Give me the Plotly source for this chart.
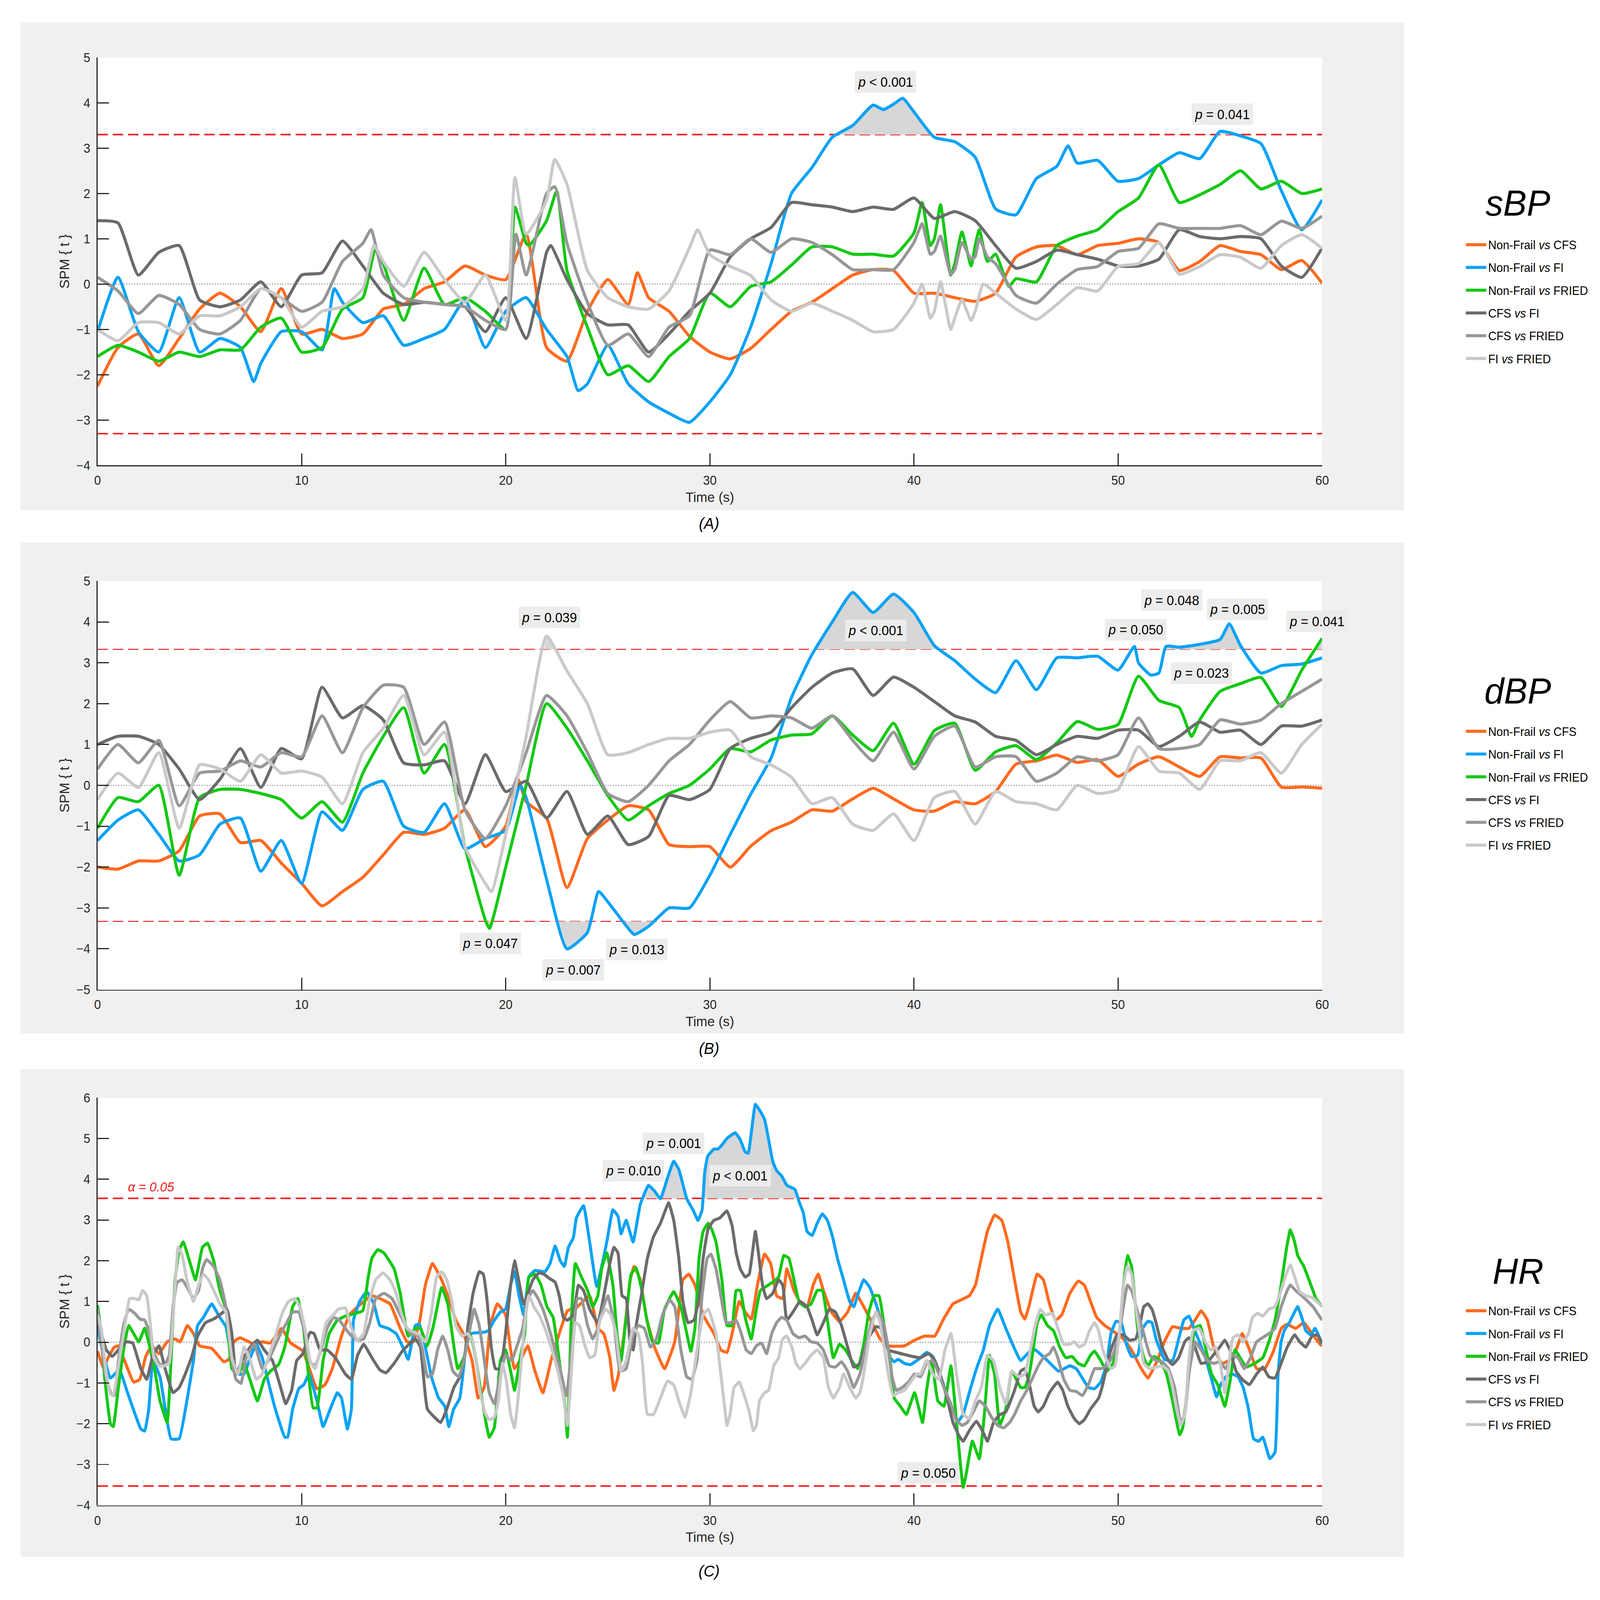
import plotly.graph_objects as go

FONT = "Liberation Sans"

# ---------------- data ----------------
TIME_S = [0, 1, 2, 3, 4, 5, 6, 7, 8, 9, 10, 11, 12, 13, 14, 15, 16, 17, 18, 19, 20,
          21, 22, 23, 24, 25, 26, 27, 28, 29, 30, 31, 32, 33, 34, 35, 36, 37, 38, 39, 40,
          41, 42, 43, 44, 45, 46, 47, 48, 49, 50, 51, 52, 53, 54, 55, 56, 57, 58, 59, 60]
X_TICKS = [0, 10, 20, 30, 40, 50, 60]

SERIES_NAMES = ["Non-Frail <i>vs</i> CFS", "Non-Frail <i>vs</i> FI", "Non-Frail <i>vs</i> FRIED",
                "CFS <i>vs</i> FI", "CFS <i>vs</i> FRIED", "FI <i>vs</i> FRIED"]
SERIES_COLORS = ["#ff6a1f", "#0aa2f5", "#14c814", "#6b6b6b", "#979797", "#c9c9c9"]

# (A) sBP : values on the 1-s grid + extra (time, value) points at sharp peaks
SBP_NF_CFS = [-2.25, -1.4, -1.1, -1.8, -1.2, -0.55, -0.2, -0.5, -1.05, -0.1,
              -1.1, -1.0, -1.2, -1.1, -0.55, -0.45, -0.1, 0.05, 0.4, 0.2,
              0.1, 1.1, -1.4, -1.7, -0.6, 0.1, -0.45, -0.3, -0.6, -1.15,
              -1.5, -1.65, -1.42, -1.0, -0.6, -0.4, -0.1, 0.2, 0.32, 0.3,
              -0.2, -0.2, -0.3, -0.38, -0.2, 0.6, 0.82, 0.85, 0.65, 0.85,
              0.9, 1.0, 0.92, 0.3, 0.5, 0.85, 0.72, 0.65, 0.32, 0.52, 0.02]
SBP_NF_CFS_X = [(26.45, 0.25)]
SBP_NF_FI = [-1.05, 0.15, -1.05, -1.5, -0.3, -1.5, -1.2, -1.4, -1.75, -1.05,
             -1.05, -1.45, -0.4, -0.85, -0.7, -1.35, -1.2, -1.0, -0.35, -1.4,
             -0.6, -0.3, -1.0, -1.6, -2.2, -1.35, -2.2, -2.6, -2.85, -3.05,
             -2.6, -2.0, -0.95, 0.45, 2.0, 2.57, 3.24, 3.5, 3.95, 3.97,
             3.8, 3.24, 3.14, 2.8, 1.66, 1.53, 2.33, 2.6, 2.67, 2.73,
             2.27, 2.33, 2.63, 2.9, 2.77, 3.37, 3.27, 3.1, 2.06, 1.2, 1.86]
SBP_NF_FI_X = [(7.65, -2.15), (11.6, -0.1), (23.55, -2.35), (38.5, 3.85), (39.45, 4.1), (47.55, 3.05)]
SBP_NF_FRIED = [-1.6, -1.35, -1.5, -1.7, -1.5, -1.6, -1.45, -1.45, -0.95, -0.75,
                -1.5, -1.4, -0.55, -0.3, 0.45, -0.8, 0.35, -0.45, -0.3, -0.6,
                -1.0, 0.9, 1.4, 0.3, -0.95, -2.0, -1.8, -2.15, -1.6, -1.2,
                -0.2, -0.5, -0.05, 0.05, 0.42, 0.82, 0.82, 0.66, 0.66, 0.62,
                1.13, 1.0, 0.45, 0.85, 0.66, 0.12, 0.05, 0.85, 1.06, 1.2,
                1.6, 1.9, 2.63, 1.8, 1.97, 2.2, 2.5, 2.1, 2.27, 2.0, 2.1]
SBP_NF_FRIED_X = [(13.6, 0.75), (20.45, 1.7), (21.15, 0.85), (22.5, 2.05), (40.4, 1.8), (40.8, 0.85),
                  (41.3, 1.75), (41.8, 0.2), (42.35, 1.15), (42.8, 0.4), (43.2, 1.2), (43.6, 0.5),
                  (44.65, -0.05)]
SBP_CFS_FI = [1.4, 1.35, 0.2, 0.7, 0.85, -0.35, -0.5, -0.35, 0.05, -0.5,
              0.2, 0.25, 0.95, 0.4, -0.2, -0.45, -0.4, -0.45, -0.5, -1.05,
              -0.3, -1.2, 0.7, 0.1, -0.65, -0.9, -0.9, -1.5, -1.1, -0.6,
              -0.2, 0.6, 1.0, 1.25, 1.8, 1.75, 1.7, 1.6, 1.7, 1.65,
              1.9, 1.45, 1.6, 1.4, 0.85, 0.35, 0.5, 0.75, 0.65, 0.55,
              0.4, 0.4, 0.55, 1.2, 1.05, 1.0, 1.05, 1.0, 0.4, 0.15, 0.8]
SBP_CFS_FI_X = [(22.2, 0.85)]
SBP_CFS_FRIED = [0.15, -0.15, -0.65, -0.25, -0.45, -1.0, -1.1, -0.8, -0.1, -0.3,
                 -0.6, -0.4, 0.5, 0.9, 0.2, -0.3, -0.4, -0.45, -0.5, -0.8,
                 -1.0, 0.2, 2.0, 0.9, -0.4, -1.35, -1.1, -1.6, -0.95, -0.7,
                 0.75, 0.65, 1.0, 0.7, 1.0, 0.92, 0.65, 0.32, 0.32, 0.32,
                 0.92, 0.72, 0.32, 0.6, 0.45, -0.25, -0.42, 0.0, 0.32, 0.39,
                 0.72, 0.79, 1.33, 1.23, 1.23, 1.23, 1.29, 1.09, 1.39, 1.23, 1.5]
SBP_CFS_FRIED_X = [(13.4, 1.2), (20.5, 1.1), (22.4, 2.15), (40.4, 1.33), (40.8, 0.66), (41.3, 1.06),
                   (41.8, 0.22), (42.35, 0.92), (42.8, 0.55), (43.2, 1.0), (43.6, 0.6)]
SBP_FI_FRIED = [-1.0, -1.25, -0.85, -0.85, -1.1, -0.7, -0.7, -0.5, -0.1, -0.3,
                -0.95, -0.6, -0.5, -0.1, 0.5, -0.05, 0.7, 0.1, -0.4, 0.2,
                -0.8, 1.1, 1.85, 2.2, 0.3, -0.3, -0.5, -0.55, -0.15, 0.8,
                0.65, 0.39, 0.19, -0.35, -0.6, -0.42, -0.6, -0.8, -1.05, -1.0,
                -0.42, -0.6, -0.75, -0.6, -0.2, -0.55, -0.78, -0.45, -0.08, -0.15,
                0.39, 0.45, 0.92, 0.22, 0.39, 0.65, 0.59, 0.35, 0.85, 1.09, 0.79]
SBP_FI_FRIED_X = [(13.55, 0.85), (20.45, 2.35), (22.4, 2.75), (29.4, 1.2), (40.4, 0.0), (40.8, -0.75),
                  (41.3, 0.05), (41.8, -1.0), (42.35, -0.35), (42.8, -0.8), (43.4, 0.0)]

# (B) dBP
DBP_NF_CFS = [-2.0, -2.05, -1.85, -1.85, -1.6, -0.75, -0.7, -1.4, -1.35, -1.9,
              -2.4, -2.95, -2.6, -2.25, -1.7, -1.15, -1.2, -1.05, -0.6, -1.5,
              -1.0, -0.4, -0.8, -2.5, -1.3, -0.85, -0.5, -0.6, -1.45, -1.5,
              -1.5, -2.0, -1.49, -1.11, -0.9, -0.6, -0.63, -0.33, -0.07, -0.33,
              -0.6, -0.63, -0.4, -0.45, -0.15, 0.52, 0.6, 0.74, 0.56, 0.63,
              0.22, 0.52, 0.7, 0.45, 0.22, 0.7, 0.67, 0.67, -0.04, -0.04, -0.07]
DBP_NF_CFS_X = [(20.6, 0.15)]
DBP_NF_FI = [-1.35, -0.85, -0.6, -1.2, -1.85, -1.7, -0.95, -0.8, -2.1, -1.35,
             -2.4, -0.65, -1.1, -0.1, 0.1, -1.0, -1.15, -0.45, -1.55, -1.3,
             -1.1, -0.3, -2.3, -4.0, -3.6, -2.85, -3.5, -3.45, -3.0, -3.0,
             -2.2, -1.2, -0.22, 0.67, 2.15, 3.2, 4.0, 4.72, 4.23, 4.68,
             4.23, 3.42, 3.05, 2.6, 2.27, 3.05, 2.34, 3.12, 3.12, 3.16,
             2.82, 3.0, 2.75, 3.38, 3.45, 3.57, 3.42, 2.75, 2.93, 2.97, 3.12]
DBP_NF_FI_X = [(20.7, 0.0), (24.55, -2.6), (26.3, -3.65), (50.8, 3.4), (51.6, 2.7), (52.35, 3.4),
               (55.45, 3.95)]
DBP_NF_FRIED = [-1.05, -0.3, -0.4, 0.0, -2.2, -0.3, -0.1, -0.1, -0.2, -0.35,
                -0.8, -0.4, -0.9, 0.3, 1.2, 1.9, 0.3, 1.0, -1.5, -3.3,
                -2.0, 0.0, 2.0, 1.4, 0.6, -0.25, -0.85, -0.5, -0.2, 0.0,
                0.4, 0.9, 0.82, 1.11, 1.23, 1.26, 1.7, 1.23, 0.85, 1.52,
                0.52, 1.34, 1.52, 0.37, 0.82, 0.97, 0.63, 1.04, 1.56, 1.37,
                1.49, 2.67, 2.08, 1.9, 1.6, 2.3, 2.49, 2.64, 1.93, 2.82, 3.6]
DBP_NF_FRIED_X = [(19.2, -3.5), (53.6, 1.2)]
DBP_CFS_FI = [1.0, 1.2, 1.2, 1.0, 0.4, -0.35, 0.15, 0.9, -0.05, 0.9,
              0.65, 2.4, 1.65, 1.95, 1.6, 0.55, 0.5, 0.6, -0.45, 0.75,
              -0.15, 0.1, -0.8, -0.15, -1.2, -0.75, -1.45, -1.25, -0.25, -0.35,
              -0.1, 0.9, 1.15, 1.3, 1.9, 2.4, 2.75, 2.85, 2.2, 2.65,
              2.4, 2.05, 1.7, 1.55, 1.2, 1.1, 0.75, 1.0, 1.2, 1.15,
              1.35, 1.35, 0.95, 1.2, 1.55, 1.3, 1.35, 1.0, 1.45, 1.45, 1.6]
DBP_CFS_FI_X = []
DBP_CFS_FRIED = [0.4, 1.0, 0.55, 1.1, -0.5, 0.3, 0.35, 0.6, 0.45, 0.8,
                 0.7, 1.7, 0.8, 1.9, 2.45, 2.4, 1.0, 1.55, -0.6, -1.3,
                 -0.5, 0.8, 2.2, 1.7, 0.8, -0.2, -0.4, 0.0, 0.6, 1.0,
                 1.6, 2.05, 1.65, 1.7, 1.65, 1.4, 1.7, 1.1, 0.6, 1.3,
                 0.4, 1.2, 1.45, 0.45, 0.7, 0.7, 0.1, 0.3, 0.7, 0.6,
                 0.75, 1.65, 0.9, 0.9, 1.0, 1.6, 1.5, 1.6, 2.0, 2.3, 2.6]
DBP_CFS_FRIED_X = []
DBP_FI_FRIED = [-0.35, 0.3, -0.05, 0.8, -1.05, 0.5, 0.4, 0.1, 0.75, 0.3,
                0.35, 0.2, -0.45, 0.8, 1.4, 2.2, 0.75, 1.3, -1.5, -2.4,
                -1.2, 1.2, 3.65, 2.8, 2.0, 0.75, 0.8, 1.0, 1.15, 1.15,
                1.3, 1.35, 0.7, 0.5, 0.2, -0.45, -0.3, -0.95, -1.1, -0.7,
                -1.35, -0.3, -0.15, -0.95, -0.15, -0.4, -0.45, -0.6, 0.0, -0.2,
                -0.1, 0.95, 0.35, 0.3, -0.1, 0.6, 0.6, 0.8, 0.3, 1.0, 1.5]
DBP_FI_FRIED_X = [(19.3, -2.6)]

# (C) HR : (time s, SPM{t}) points
HR_NF_CFS = [(0, -0.22), (0.28, -0.61), (0.58, -0.32), (0.82, -0.12), (1.02, -0.09), (1.32, -0.45),
             (1.77, -0.98), (2.07, -0.91), (2.36, -0.35), (2.66, -0.09), (3.01, -0.28), (3.41, 0.01),
             (3.8, 0.08), (4.05, 0.01), (4.4, 0.41), (4.7, 0.21), (5.0, -0.09), (5.59, -0.15),
             (6.19, -0.48), (6.44, -0.42), (6.68, 0.01), (6.98, 0.11), (7.68, -0.05), (8.07, 0.01),
             (8.47, -0.02), (9.02, 0.34), (9.46, -0.02), (10.06, -0.22), (10.75, -1.14), (11.15, -1.04),
             (11.5, -0.65), (11.95, 0.15), (12.34, 0.67), (12.74, 0.87), (13.44, 1.14), (13.83, 1.07),
             (14.33, 0.94), (14.83, 0.34), (15.17, 0.01), (15.47, 0.01), (15.77, 0.48), (16.06, 1.4),
             (16.41, 1.93), (16.86, 1.53), (17.26, 1.0), (17.55, 0.54), (17.95, 0.18), (18.35, -0.45),
             (18.65, -1.37), (18.94, -1.11), (19.24, 0.41), (19.59, 0.94), (19.99, 0.67), (20.24, -0.19),
             (20.43, -0.65), (20.78, -0.38), (21.08, -0.09), (21.43, -0.71), (21.82, -1.24), (22.22, -0.45),
             (22.62, 0.21), (23.02, 0.77), (23.51, 0.87), (24.11, 1.14), (24.51, 0.34), (24.8, 0.21),
             (25.1, -0.38), (25.3, -1.18), (25.5, -0.85), (25.8, 0.21), (26.1, 1.53), (26.29, 1.86),
             (26.59, 1.53), (26.89, 0.61), (27.29, -0.12), (27.78, -0.65), (28.28, 0.01), (28.68, 1.53),
             (28.97, 1.67), (29.27, 1.4), (29.67, 0.67), (30.2, 0.21), (30.54, -0.19), (30.84, -0.25),
             (31.09, 0.21), (31.44, 1.0), (31.73, 0.74), (32.03, 0.57), (32.33, 1.4), (32.68, 2.16),
             (32.98, 1.93), (33.27, 1.14), (33.57, 1.07), (33.77, 1.8), (34.12, 1.27), (34.47, 0.94),
             (34.76, 0.87), (35.06, 1.4), (35.31, 1.67), (35.56, 1.27), (35.96, 0.74), (36.35, 0.51),
             (36.75, 0.74), (37.15, 1.2), (37.54, 0.87), (37.94, 0.48), (38.34, 0.08), (38.74, -0.09),
             (39.53, -0.09), (40.03, 0.05), (40.52, 0.15), (41.02, 0.15), (41.42, 0.54), (41.91, 0.94),
             (42.31, 1.04), (42.71, 1.14), (43.01, 1.4), (43.3, 2.06), (43.6, 2.72), (43.95, 3.12),
             (44.3, 2.99), (44.6, 2.46), (44.93, 1.53), (45.23, 0.74), (45.43, 0.57), (45.63, 0.87),
             (46.04, 1.67), (46.34, 1.53), (46.64, 0.94), (46.94, 0.54), (47.24, 0.67), (47.64, 1.2),
             (48.05, 1.5), (48.35, 1.4), (48.65, 1.0), (48.95, 0.61), (49.35, 0.41), (49.85, 0.24),
             (50.26, 0.08), (50.66, -0.19), (51.06, -0.58), (51.46, -0.88), (51.86, -0.52), (52.27, 0.01),
             (52.67, 0.38), (53.07, 0.34), (53.47, 0.34), (53.77, 0.54), (54.07, 0.77), (54.38, 0.54),
             (54.68, -0.12), (55.08, -0.52), (55.43, -0.45), (55.78, -0.19), (56.08, 0.21), (56.39, -0.12),
             (56.79, -0.65), (57.19, -0.65), (57.59, -0.25), (58.0, 0.34), (58.29, 0.44), (58.7, 0.34),
             (59.1, 0.48), (59.5, 0.21), (59.9, -0.05), (60.0, -0.09)]
HR_NF_FI = [(0, 0.34), (0.63, -0.88), (1.07, -0.68), (1.47, -1.24), (2.12, -2.13), (2.31, -2.18),
            (2.51, -1.64), (2.71, -0.45), (3.06, -0.85), (3.6, -2.37), (4.0, -2.37), (4.4, -1.37),
            (4.7, -0.45), (4.9, 0.41), (5.19, 0.61), (5.59, 0.94), (5.99, 0.61), (6.29, 0.38),
            (6.58, -0.45), (6.88, -0.78), (7.18, -0.78), (7.48, -0.38), (7.78, -0.05), (8.07, -0.38),
            (8.37, -0.98), (8.67, -1.57), (9.17, -2.33), (9.31, -2.33), (9.56, -1.64), (9.86, -1.14),
            (10.11, -1.04), (10.36, -0.78), (10.75, -1.44), (11.05, -2.07), (11.4, -1.64), (11.75, -1.24),
            (11.95, -1.37), (12.24, -2.13), (12.44, -1.64), (12.54, 0.54), (12.84, 1.0), (13.19, 1.24),
            (13.54, 0.94), (13.83, 0.41), (14.23, 0.34), (14.63, 0.21), (15.02, -0.19), (15.22, -0.42),
            (15.57, 0.41), (15.77, 0.44), (16.06, -0.12), (16.36, -0.85), (16.71, -1.37), (17.01, -1.57),
            (17.21, -2.07), (17.45, -1.64), (17.75, -1.37), (18.05, -0.12), (18.25, 0.21), (18.85, 0.24),
            (19.14, 0.28), (19.44, 0.54), (19.74, 0.74), (19.99, 0.81), (20.24, 1.4), (20.43, 1.73),
            (20.63, 1.2), (20.88, 0.67), (21.13, 1.6), (21.43, 1.76), (21.92, 1.73), (22.17, 1.93),
            (22.42, 2.36), (22.67, 2.0), (22.87, 1.86), (23.07, 2.33), (23.31, 2.56), (23.46, 3.05),
            (23.81, 3.35), (24.11, 2.46), (24.46, 1.37), (24.95, 2.46), (25.25, 3.25), (25.5, 3.09),
            (25.65, 2.66), (25.9, 2.99), (26.24, 2.46), (26.59, 3.38), (26.99, 3.85), (27.29, 3.71),
            (27.58, 3.52), (27.93, 4.04), (28.23, 4.44), (28.48, 4.24), (28.87, 3.52), (29.17, 3.25),
            (29.42, 2.99), (29.62, 3.25), (29.75, 4.18), (29.9, 4.57), (30.2, 4.74), (30.39, 4.74),
            (30.59, 4.84), (30.84, 5.0), (31.24, 5.14), (31.49, 4.97), (31.73, 4.67), (31.88, 4.64),
            (32.23, 5.84), (32.48, 5.66), (32.68, 5.47), (32.88, 4.97), (33.08, 4.44), (33.27, 4.21),
            (33.52, 4.08), (33.77, 3.85), (34.17, 3.75), (34.37, 3.45), (34.57, 3.19), (34.76, 2.72),
            (35.01, 2.62), (35.26, 2.92), (35.51, 3.15), (35.76, 2.99), (36.01, 2.59), (36.25, 2.06),
            (36.55, 1.53), (36.85, 1.0), (37.05, 0.87), (37.3, 1.24), (37.54, 1.53), (37.84, 1.34),
            (38.14, 0.94), (38.54, 0.28), (38.84, -0.38), (39.03, -0.48), (39.23, -0.42), (39.53, -0.52),
            (39.83, -0.55), (40.23, -0.42), (40.62, -0.25), (40.92, -0.35), (41.32, -0.85), (41.62, -1.31),
            (41.91, -1.71), (42.16, -1.94), (42.41, -1.77), (42.71, -1.24), (43.06, -0.65), (43.4, -0.19),
            (43.7, 0.41), (44.1, 0.81), (44.5, 0.34), (44.83, -0.05), (45.23, -0.45), (45.63, -0.25),
            (45.94, -0.19), (46.54, -0.45), (47.09, -0.71), (47.64, -0.58), (47.95, -0.65), (48.55, -1.11),
            (48.85, -1.14), (49.15, -0.98), (49.45, -0.52), (49.65, 0.21), (49.9, 0.51), (50.16, 0.48),
            (50.41, -0.05), (50.66, -0.35), (50.96, -0.32), (51.21, 0.34), (51.46, 0.51), (51.66, 0.48),
            (51.86, 0.08), (52.27, -0.42), (52.67, -0.45), (52.97, 0.08), (53.22, 0.54), (53.47, 0.64),
            (53.72, 0.34), (54.28, -0.38), (54.58, -0.91), (54.83, -1.34), (55.03, -1.04), (55.28, -0.85),
            (55.58, -0.78), (55.88, -0.85), (56.13, -1.11), (56.39, -1.64), (56.64, -2.37), (56.89, -2.43),
            (57.09, -2.33), (57.44, -2.86), (57.69, -2.7), (57.84, -0.78), (57.99, 0.01), (58.14, 0.28),
            (58.39, 0.48), (58.8, 0.87), (59.0, 0.61), (59.2, 0.28), (59.45, 0.18), (59.65, 0.34),
            (59.9, 0.08), (60.0, -0.05)]
HR_NF_FRIED = [(0, 0.91), (0.18, 0.21), (0.33, -0.78), (0.63, -2.0), (0.77, -2.07), (1.02, -1.11),
               (1.32, -0.05), (1.52, 0.41), (1.77, 0.21), (2.02, 0.01), (2.31, 0.34), (2.56, -0.12),
               (2.81, -0.71), (3.06, -1.44), (3.41, -1.97), (3.6, -0.45), (3.8, 1.53), (4.0, 2.26),
               (4.2, 2.46), (4.5, 2.0), (4.8, 1.53), (5.14, 2.33), (5.39, 2.43), (5.69, 2.0),
               (5.99, 1.27), (6.29, 0.81), (6.58, -0.65), (6.88, -0.78), (7.18, -0.52), (7.83, -1.44),
               (8.17, -0.91), (8.47, -0.71), (8.87, -0.55), (9.17, -0.12), (9.56, 0.87), (9.81, 1.07),
               (10.06, 0.48), (10.26, -0.45), (10.56, -1.61), (10.75, -1.61), (11.05, -0.45), (11.35, 0.21),
               (11.75, 0.54), (12.14, 0.64), (12.99, 0.77), (13.24, 1.53), (13.44, 2.06), (13.73, 2.27),
               (14.03, 2.19), (14.53, 1.8), (14.83, 1.2), (15.22, 0.15), (15.57, 0.34), (15.82, 0.34),
               (16.16, -0.09), (16.46, 0.41), (16.86, 1.34), (17.16, 0.94), (17.65, -0.65), (17.95, -0.38),
               (18.25, 0.24), (18.55, -0.45), (18.85, -1.44), (19.19, -2.33), (19.44, -2.1), (19.74, -0.45),
               (19.99, -0.19), (20.24, -0.71), (20.43, -1.18), (20.73, -0.32), (20.93, 0.21), (21.13, 1.6),
               (21.43, 1.67), (21.73, 1.4), (22.02, 0.87), (22.32, 0.61), (22.62, -0.45), (22.92, -1.64),
               (23.02, -2.33), (23.21, 0.54), (23.41, 1.93), (23.71, 1.6), (24.01, 1.27), (24.26, 0.87),
               (24.51, 1.14), (24.7, 1.8), (24.95, 2.19), (25.25, 1.4), (25.45, 0.21), (25.65, -0.45),
               (25.9, 0.61), (26.14, 1.67), (26.39, 1.83), (26.64, 1.34), (26.94, 0.48), (27.19, 0.01),
               (27.48, -0.02), (27.78, 0.81), (28.23, 1.24), (28.58, 0.87), (28.87, 0.21), (29.07, -0.22),
               (29.27, 0.34), (29.47, 2.06), (29.67, 2.72), (29.92, 2.92), (30.1, 2.76), (30.3, 2.46),
               (30.59, 1.53), (30.84, 0.41), (31.09, 0.41), (31.29, 1.27), (31.49, 1.27), (31.73, 0.61),
               (32.03, 0.08), (32.28, 0.81), (32.48, 1.27), (33.08, 1.47), (33.37, 1.6), (33.62, 2.13),
               (33.87, 2.06), (34.12, 1.53), (34.37, 1.0), (34.66, 0.87), (34.96, 0.94), (35.26, 1.27),
               (35.51, 1.27), (35.76, 0.54), (36.05, -0.38), (36.35, -0.05), (36.65, -0.19), (36.95, -0.45),
               (37.25, -0.65), (37.54, -0.05), (37.79, 0.74), (38.04, 1.14), (38.29, 1.14), (38.54, 0.41),
               (38.84, -0.45), (39.03, -1.37), (39.33, -1.57), (39.63, -1.77), (40.03, -1.24), (40.42, -1.97),
               (40.62, -1.18), (40.87, -0.45), (41.17, -1.44), (41.47, -1.57), (41.81, -0.58), (42.11, -2.1),
               (42.41, -3.56), (42.56, -3.23), (42.86, -2.43), (43.2, -2.86), (43.45, -1.77), (43.7, -0.32),
               (43.95, -0.79), (44.2, -2.04), (44.5, -1.64), (44.79, -0.71), (45.23, -1.11), (45.43, -1.11),
               (45.63, -0.85), (45.84, -0.19), (46.04, 0.48), (46.24, 0.67), (46.54, 0.41), (46.84, 0.28),
               (47.14, -0.12), (47.44, -0.38), (47.74, -0.35), (48.05, -0.52), (48.35, -0.58), (48.65, -0.32),
               (48.85, -0.22), (49.15, -0.45), (49.45, -0.71), (49.75, -0.52), (50.06, 0.21), (50.26, 1.4),
               (50.46, 2.13), (50.66, 1.86), (50.96, 0.34), (51.26, -0.38), (51.46, -0.58), (51.76, -0.35),
               (52.06, -0.45), (52.37, -0.78), (52.67, -1.44), (53.02, -2.27), (53.17, -2.1), (53.47, -0.78),
               (53.77, 0.34), (54.02, 0.41), (54.28, -0.12), (54.58, -0.78), (54.88, -1.04), (55.23, -1.57),
               (55.48, -0.98), (55.73, -0.19), (55.98, -0.38), (56.28, -0.61), (56.69, -0.52), (57.09, -0.38),
               (57.39, 0.01), (57.69, 0.54), (57.99, 1.4), (58.24, 2.26), (58.44, 2.76), (58.65, 2.46),
               (58.8, 2.13), (59.1, 1.86), (59.4, 1.47), (59.7, 1.07), (60.0, 0.87)]
HR_CFS_FI = [(0, 0.41), (0.18, 0.21), (0.43, -0.19), (0.72, -0.35), (1.02, -0.19), (1.42, 0.01),
             (1.72, -0.02), (2.12, -0.65), (2.41, -0.91), (2.71, -0.32), (3.01, -0.09), (3.31, -0.65),
             (3.7, -1.24), (4.0, -1.11), (4.3, -0.78), (4.6, -0.38), (4.9, 0.15), (5.29, 0.48),
             (5.69, 0.57), (6.09, 0.71), (6.34, 0.81), (6.58, 0.21), (6.78, -0.78), (7.08, -0.45),
             (7.48, -0.12), (7.83, 0.05), (8.17, -0.19), (8.57, -0.45), (8.97, -1.11), (9.22, -1.51),
             (9.51, -1.18), (9.76, -0.45), (10.06, -0.28), (10.41, 0.24), (10.61, 0.21), (10.9, -0.19),
             (11.25, -0.19), (11.65, -0.38), (12.14, -0.78), (12.44, -0.91), (12.74, -0.32), (13.04, -0.05),
             (13.44, -0.38), (13.83, -0.68), (14.13, -0.75), (14.53, -0.52), (14.93, -0.22), (15.57, 0.08),
             (15.82, -0.12), (16.16, -1.64), (16.81, -1.97), (17.11, -1.64), (17.46, -1.11), (17.75, -0.85),
             (18.0, -0.32), (18.15, 0.41), (18.4, 1.2), (18.7, 1.73), (18.9, 1.67), (19.09, 1.0),
             (19.29, -0.12), (19.49, -0.65), (19.74, -0.65), (19.99, 0.21), (20.24, 1.4), (20.43, 2.0),
             (20.63, 1.53), (20.88, 0.94), (21.33, 1.53), (21.63, 1.7), (21.87, 1.67), (22.12, 1.57),
             (22.42, 1.47), (22.62, 1.14), (22.82, 0.61), (23.02, 0.54), (23.31, 0.67), (23.56, 1.4),
             (23.81, 1.27), (24.11, 0.81), (24.51, 0.48), (24.9, 1.4), (25.1, 1.93), (25.3, 2.33),
             (25.5, 2.19), (25.7, 1.14), (25.9, 1.07), (26.1, -0.05), (26.24, -0.19), (26.39, 0.41),
             (26.64, 1.14), (26.94, 2.06), (27.24, 2.59), (27.58, 2.92), (27.98, 3.42), (28.23, 2.99),
             (28.48, 2.06), (28.68, 1.0), (28.93, 0.48), (29.22, 0.54), (29.47, 1.07), (29.67, 2.06),
             (29.92, 2.79), (30.2, 2.99), (30.49, 3.05), (30.84, 3.22), (31.09, 2.86), (31.29, 2.19),
             (31.49, 1.8), (31.73, 1.6), (31.93, 1.67), (32.23, 2.72), (32.38, 2.19), (32.58, 1.4),
             (32.78, 1.07), (33.08, 1.2), (33.37, 1.53), (33.57, 1.4), (33.77, 0.54), (34.07, 0.74),
             (34.42, 1.0), (34.76, 0.87), (35.01, 0.54), (35.26, 0.18), (35.56, 0.48), (35.86, 0.81),
             (36.15, 0.74), (36.45, 0.41), (36.75, -0.12), (37.05, -0.61), (37.35, -0.52), (37.74, 0.08),
             (38.14, 0.38), (38.44, 0.34), (38.74, -0.19), (39.13, -0.25), (39.93, -0.35), (40.32, -0.38),
             (40.72, -0.28), (41.02, -0.45), (41.32, -0.85), (41.62, -1.37), (41.91, -1.97), (42.21, -2.3),
             (42.41, -2.43), (42.71, -2.17), (43.06, -1.94), (43.35, -2.17), (43.6, -2.43), (43.9, -1.97),
             (44.2, -1.78), (44.5, -1.71), (44.93, -1.18), (45.23, -0.71), (45.43, -0.65), (45.63, -0.98),
             (45.89, -1.57), (46.09, -1.71), (46.34, -1.57), (46.64, -1.24), (47.04, -0.98), (47.29, -1.18),
             (47.54, -1.57), (47.85, -1.87), (48.1, -2.0), (48.35, -1.9), (48.65, -1.64), (49.05, -1.37),
             (49.25, -1.04), (49.45, -0.58), (49.65, -0.19), (49.95, 0.18), (50.26, 0.18), (50.56, 0.05),
             (50.86, 0.08), (51.06, 0.41), (51.26, 0.87), (51.46, 0.94), (51.66, 0.81), (51.86, 0.48),
             (52.16, -0.12), (52.47, -0.45), (52.67, -0.55), (52.97, -0.38), (53.27, 0.01), (53.47, 0.11),
             (53.77, -0.12), (54.07, -0.52), (54.38, -0.48), (54.98, -0.12), (55.23, 0.05), (55.48, -0.19),
             (55.78, -0.71), (56.08, -0.91), (56.43, -1.04), (56.79, -0.78), (57.09, -0.61), (57.39, -0.85),
             (57.69, -0.88), (57.99, -0.52), (58.29, -0.12), (58.65, 0.18), (58.9, 0.01), (59.2, -0.12),
             (59.5, 0.15), (59.75, 0.18), (60.0, -0.02)]
HR_CFS_FRIED = [(0, 0.81), (0.13, 0.21), (0.38, -0.78), (0.68, -1.28), (0.82, -1.31), (1.02, -0.45),
                (1.27, 0.41), (1.52, 0.81), (1.82, 0.71), (2.07, 0.57), (2.31, 0.54), (2.56, 0.21),
                (2.76, -0.25), (3.01, -0.52), (3.26, -0.58), (3.51, -0.32), (3.7, 0.87), (3.9, 1.47),
                (4.15, 1.53), (4.4, 1.34), (4.7, 1.07), (4.95, 1.27), (5.14, 1.8), (5.34, 2.03),
                (5.69, 1.86), (5.99, 1.53), (6.29, 0.87), (6.58, -0.45), (6.78, -0.91), (7.03, -1.01),
                (7.28, -0.38), (7.68, -0.05), (8.07, -0.65), (8.37, -0.45), (8.67, -0.12), (8.97, 0.21),
                (9.27, 0.48), (9.56, 0.74), (9.86, 0.74), (10.16, 0.21), (10.36, -0.45), (10.66, -0.58),
                (10.95, -0.19), (11.25, 0.34), (11.55, 0.61), (11.85, 0.54), (12.14, 0.34), (12.44, 0.15),
                (12.74, 0.05), (13.04, 0.08), (13.34, 0.48), (13.63, 1.07), (14.03, 1.2), (14.43, 1.07),
                (14.83, 0.67), (15.37, 0.18), (15.67, 0.21), (15.92, -0.19), (16.16, -0.85), (16.41, -0.78),
                (16.66, -0.19), (16.91, 0.15), (17.16, -0.19), (17.41, -0.71), (17.7, -0.85), (17.95, -0.45),
                (18.2, 0.21), (18.45, 0.81), (18.7, 0.41), (18.95, -0.45), (19.19, -1.24), (19.44, -1.51),
                (19.74, -0.78), (19.99, -0.32), (20.29, -0.45), (20.53, -0.12), (20.83, 0.34), (21.08, 1.07),
                (21.33, 1.27), (21.58, 1.07), (21.82, 0.81), (22.12, 0.34), (22.42, -0.19), (22.72, -0.78),
                (22.97, -1.31), (23.31, 0.21), (23.51, 1.07), (23.71, 1.07), (24.01, 0.41), (24.26, 0.08),
                (24.51, 0.34), (24.75, 0.81), (25.0, 1.14), (25.3, 0.48), (25.6, -0.71), (25.9, -0.65),
                (26.19, 0.08), (26.49, 0.41), (26.79, 0.34), (27.09, -0.12), (27.38, 0.08), (27.68, 0.67),
                (28.03, 1.04), (28.28, 0.87), (28.58, -0.19), (28.87, -0.85), (29.12, -0.91), (29.37, -0.45),
                (29.62, 1.14), (29.87, 2.06), (30.05, 2.16), (30.3, 1.8), (30.54, 1.14), (30.79, 0.48),
                (31.04, 0.48), (31.29, 0.54), (31.54, 0.21), (31.78, -0.19), (32.03, -0.28), (32.28, -0.09),
                (32.53, -0.02), (32.78, -0.28), (33.03, 0.21), (33.27, 0.48), (33.52, 0.61), (33.77, 0.54),
                (34.07, 0.21), (34.37, 0.11), (34.66, 0.15), (34.96, 0.01), (35.26, -0.02), (35.56, -0.19),
                (35.86, -0.58), (36.15, -0.61), (36.45, -0.48), (36.75, -0.71), (37.05, -1.11), (37.35, -0.78),
                (37.64, -0.12), (37.94, 0.54), (38.24, 0.74), (38.54, 0.41), (38.74, -0.19), (38.93, -0.85),
                (39.13, -1.18), (39.43, -1.11), (39.73, -0.98), (40.03, -0.78), (40.32, -0.85), (40.62, -0.52),
                (40.92, -0.45), (41.22, -0.78), (41.52, -1.18), (41.81, -1.51), (42.06, -1.9), (42.36, -2.04),
                (42.61, -1.97), (42.91, -1.71), (43.2, -1.44), (43.5, -1.57), (43.8, -1.84), (44.1, -2.04),
                (44.4, -2.1), (44.69, -1.97), (44.93, -1.77), (45.23, -1.44), (45.53, -1.18), (45.84, -0.85),
                (46.09, -0.58), (46.34, -0.38), (46.64, -0.28), (46.84, -0.12), (47.09, -0.45), (47.34, -0.91),
                (47.64, -1.18), (47.95, -1.21), (48.25, -1.31), (48.55, -1.04), (48.85, -0.65), (49.15, -0.65),
                (49.45, -0.58), (49.75, -0.32), (50.06, 0.21), (50.26, 0.87), (50.46, 1.4), (50.66, 1.27),
                (50.96, 0.74), (51.26, 0.21), (51.56, -0.32), (51.86, -0.45), (52.16, -0.48), (52.47, -0.65),
                (52.77, -1.11), (53.07, -1.97), (53.27, -1.77), (53.47, -0.78), (53.77, 0.01), (54.07, -0.19),
                (54.38, -0.45), (54.68, -0.52), (54.98, -0.48), (55.28, -0.65), (55.58, -0.32), (55.88, -0.38),
                (56.18, -0.65), (56.49, -0.38), (56.79, 0.01), (57.39, 0.21), (57.69, 0.34), (57.99, 0.87),
                (58.29, 1.27), (58.44, 1.4), (58.7, 1.27), (59.0, 1.14), (59.3, 1.0), (59.6, 0.84),
                (59.9, 0.61), (60.0, 0.54)]
HR_FI_FRIED = [(0, 0.67), (0.18, 0.34), (0.43, -0.78), (0.63, -1.28), (0.77, -1.31), (1.02, -0.58),
               (1.32, 0.34), (1.57, 1.07), (1.82, 1.07), (2.02, 1.04), (2.21, 1.27), (2.41, 1.14),
               (2.61, 0.34), (2.76, -0.38), (3.01, -0.58), (3.26, -0.58), (3.51, -0.52), (3.75, 1.0),
               (3.95, 2.33), (4.15, 2.13), (4.4, 1.47), (4.7, 1.0), (4.95, 1.4), (5.19, 1.67),
               (5.44, 1.53), (5.69, 1.27), (5.99, 0.94), (6.29, 0.74), (6.58, -0.38), (6.88, -0.78),
               (7.18, -0.12), (7.48, -0.45), (7.78, -0.91), (8.07, -0.78), (8.37, -0.38), (8.67, 0.08),
               (9.07, 0.74), (9.36, 1.0), (9.66, 1.07), (9.91, 0.87), (10.16, 0.34), (10.41, -0.45),
               (10.66, -0.65), (10.95, -0.12), (11.2, 0.48), (11.55, 0.67), (11.8, 0.81), (12.14, 0.84),
               (12.44, 0.34), (12.74, 0.05), (13.04, 0.21), (13.34, 1.07), (13.63, 1.53), (13.98, 1.7),
               (14.33, 1.53), (14.63, 1.2), (14.87, 0.74), (15.17, 0.34), (15.77, 0.18), (16.06, 0.01),
               (16.36, 0.74), (16.61, 1.6), (16.86, 1.73), (17.11, 1.53), (17.36, 1.0), (17.55, 0.41),
               (17.85, 0.15), (18.1, 0.21), (18.35, 0.08), (18.55, -0.45), (18.75, -1.24), (18.99, -1.74),
               (19.19, -1.9), (19.44, -1.84), (19.64, -1.44), (19.84, -0.52), (20.04, -0.98), (20.24, -1.77),
               (20.43, -2.1), (20.63, -1.24), (20.88, 0.21), (21.13, 1.14), (21.38, 0.87), (21.63, 0.67),
               (21.92, 0.34), (22.22, -0.12), (22.52, -0.65), (22.82, -1.31), (23.02, -2.04), (23.21, -0.78),
               (23.41, 0.48), (23.61, 0.41), (23.86, -0.05), (24.11, -0.38), (24.36, -0.32), (24.61, 0.54),
               (24.9, 0.81), (25.15, 0.67), (25.4, 0.21), (25.65, -0.71), (25.9, -0.45), (26.24, 0.34),
               (26.49, 0.21), (26.69, -0.45), (26.94, -1.77), (27.24, -1.77), (27.58, -1.37), (27.93, -0.95),
               (28.23, -1.05), (28.48, -1.44), (28.78, -1.84), (29.07, -1.24), (29.37, -0.19), (29.67, 0.67),
               (29.92, 0.81), (30.3, 0.21), (30.49, -0.58), (30.69, -1.44), (30.84, -2.04), (30.99, -1.77),
               (31.19, -1.11), (31.44, -0.98), (31.69, -1.31), (31.93, -1.71), (32.13, -2.17), (32.28, -2.04),
               (32.43, -1.44), (32.68, -1.24), (32.88, -1.18), (33.13, -0.58), (33.37, -0.38), (33.57, 0.08),
               (33.77, 0.15), (34.02, -0.12), (34.22, -0.52), (34.42, -0.65), (34.66, -0.52), (34.96, -0.32),
               (35.26, -0.19), (35.56, -0.38), (35.81, -1.11), (36.05, -1.37), (36.35, -1.11), (36.55, -0.78),
               (36.85, -1.11), (37.15, -1.37), (37.35, -1.24), (37.54, -0.78), (37.84, 0.21), (38.14, 0.74),
               (38.34, 0.48), (38.54, -0.12), (38.74, -0.78), (38.98, -1.31), (39.23, -1.24), (39.53, -1.18),
               (39.83, -0.98), (40.13, -0.78), (40.32, -0.78), (40.62, -0.45), (40.92, -0.78), (41.22, -0.91),
               (41.52, -0.19), (41.81, 0.21), (42.11, -0.85), (42.41, -1.77), (42.71, -1.87), (43.01, -1.44),
               (43.3, -1.11), (43.6, -0.32), (43.9, -0.45), (44.2, -1.11), (44.5, -1.51), (44.79, -0.71),
               (45.13, -0.85), (45.43, -0.78), (45.73, -0.12), (45.94, 0.41), (46.19, 0.81), (46.44, 0.67),
               (46.79, 0.71), (47.09, 0.28), (47.34, -0.05), (47.64, -0.05), (47.85, 0.01), (48.1, -0.12),
               (48.35, -0.05), (48.6, 0.28), (48.85, 0.48), (49.05, 0.28), (49.25, -0.19), (49.45, -0.45),
               (49.65, -0.65), (49.85, -0.58), (50.06, 0.21), (50.26, 1.4), (50.46, 1.86), (50.66, 1.67),
               (50.86, 0.87), (51.06, 0.21), (51.26, -0.52), (51.56, -0.65), (52.16, -0.58), (52.47, -0.71),
               (52.67, -1.11), (52.87, -1.64), (53.07, -2.04), (53.27, -1.77), (53.47, -0.45), (53.67, 0.28),
               (53.97, 0.34), (54.28, 0.01), (54.53, -0.19), (54.78, -0.12), (55.03, -0.58), (55.23, -1.24),
               (55.43, -0.52), (55.63, 0.11), (55.88, 0.18), (56.13, 0.01), (56.39, 0.21), (56.59, 0.61),
               (56.84, 0.71), (57.09, 0.64), (57.39, 0.81), (57.69, 0.87), (57.99, 1.27), (58.24, 1.67),
               (58.44, 1.9), (58.7, 1.53), (58.9, 1.24), (59.2, 1.14), (59.5, 1.1), (59.8, 0.97),
               (60.0, 0.87)]

# critical thresholds (alpha = 0.05)
THRESH_SBP = 3.30
THRESH_DBP = 3.33
THRESH_HR = 3.53

# p-value labels: (text, time, SPM{t})
P_LABELS_SBP = [("<i>p</i> &lt; 0.001", 38.6, 4.46), ("<i>p</i> = 0.041", 55.1, 3.75)]
P_LABELS_DBP = [("<i>p</i> = 0.039", 22.14, 4.11), ("<i>p</i> = 0.047", 19.25, -3.87),
                ("<i>p</i> = 0.007", 23.3, -4.52), ("<i>p</i> = 0.013", 26.42, -4.02),
                ("<i>p</i> &lt; 0.001", 38.14, 3.79), ("<i>p</i> = 0.050", 50.86, 3.81),
                ("<i>p</i> = 0.048", 52.63, 4.53), ("<i>p</i> = 0.005", 55.85, 4.31),
                ("<i>p</i> = 0.041", 59.75, 4.01), ("<i>p</i> = 0.023", 54.08, 2.75)]
P_LABELS_HR = [("<i>p</i> = 0.010", 26.25, 4.21), ("<i>p</i> = 0.001", 28.22, 4.88),
               ("<i>p</i> &lt; 0.001", 31.49, 4.09), ("<i>p</i> = 0.050", 40.7, -3.2)]


def on_grid(vals, extra):
    pts = dict(zip(TIME_S, vals))
    for t, v in extra:
        pts[t] = v
    ts = sorted(pts)
    return ts, [pts[t] for t in ts]


def from_pairs(pairs):
    return [p[0] for p in pairs], [p[1] for p in pairs]


# ---------------- layout geometry (px of the 4304 x 4168 canvas) ----------------
W, H = 4304, 4168
def px_x(v): return v / W
def px_y(v): return 1 - v / H

X_DOM = [px_x(255), px_x(3570)]
PANELS = [
    dict(key="", title="sBP", cap="(A)", yr=[-4, 5], thr=THRESH_SBP, thr_w=4, leg="legend",
         series=[on_grid(SBP_NF_CFS, SBP_NF_CFS_X), on_grid(SBP_NF_FI, SBP_NF_FI_X),
                 on_grid(SBP_NF_FRIED, SBP_NF_FRIED_X), on_grid(SBP_CFS_FI, SBP_CFS_FI_X),
                 on_grid(SBP_CFS_FRIED, SBP_CFS_FRIED_X), on_grid(SBP_FI_FRIED, SBP_FI_FRIED_X)],
         smooth=0.5, labels=P_LABELS_SBP, xline=("#262626", 2.5),
         plot=(133, 1205), box=(41, 1323), cap_y=1358, title_y=516, leg_y=598),
    dict(key="2", title="dBP", cap="(B)", yr=[-5, 5], thr=THRESH_DBP, thr_w=2.6, leg="legend2",
         series=[on_grid(DBP_NF_CFS, DBP_NF_CFS_X), on_grid(DBP_NF_FI, DBP_NF_FI_X),
                 on_grid(DBP_NF_FRIED, DBP_NF_FRIED_X), on_grid(DBP_CFS_FI, DBP_CFS_FI_X),
                 on_grid(DBP_CFS_FRIED, DBP_CFS_FRIED_X), on_grid(DBP_FI_FRIED, DBP_FI_FRIED_X)],
         smooth=0.5, labels=P_LABELS_DBP, xline=("#262626", 2.5),
         plot=(1509, 2583), box=(1408, 2698), cap_y=2737, title_y=1798, leg_y=1877),
    dict(key="3", title="HR", cap="(C)", yr=[-4, 6], thr=THRESH_HR, thr_w=4, leg="legend3",
         series=[from_pairs(s) for s in
                 [HR_NF_CFS, HR_NF_FI, HR_NF_FRIED, HR_CFS_FI, HR_CFS_FRIED, HR_FI_FRIED]],
         smooth=0.35, labels=P_LABELS_HR, xline=("#8a8a8a", 4),
         plot=(2867, 3938), box=(2792, 4074), cap_y=4112, title_y=3324, leg_y=3400),
]


def exceed_regions(ts, vs, thr):
    """Closed polygons between +/-thr and the curve where |SPM{t}| exceeds thr."""
    xs, ys = [], []
    for sgn in (1, -1):
        seg, prev = None, None
        for t, v in zip(ts, vs):
            s = v * sgn
            if prev is not None:
                pt, ps = prev
                if (ps > thr) != (s > thr):
                    tc = pt + (thr - ps) * (t - pt) / (s - ps)
                    if s > thr:
                        seg = [(tc, thr)]
                    else:
                        seg.append((tc, thr))
                        xs += [p[0] for p in seg] + [None]
                        ys += [p[1] * sgn for p in seg] + [None]
                        seg = None
            elif s > thr:
                seg = [(t, thr)]
            if s > thr:
                seg.append((t, s))
            prev = (t, s)
        if seg:
            seg.append((prev[0], thr))
            xs += [p[0] for p in seg] + [None]
            ys += [p[1] * sgn for p in seg] + [None]
    return xs, ys


fig = go.Figure()
shapes, annotations = [], []
layout = {}

AX_COLOR = "#262626"
for P in PANELS:
    k = P["key"]
    xa, ya = "x" + k, "y" + k
    fx, fy = [], []
    for ts, vs in P["series"]:
        a, b = exceed_regions(ts, vs, P["thr"])
        fx += a
        fy += b
    fig.add_trace(go.Scatter(x=fx, y=fy, mode="lines", fill="toself", fillcolor="#d7d7d7",
                             line=dict(width=0, color="#d7d7d7"), hoverinfo="skip",
                             showlegend=False, xaxis=xa, yaxis=ya))
    for i, (ts, vs) in enumerate(P["series"]):
        fig.add_trace(go.Scatter(x=ts, y=vs, mode="lines", name=SERIES_NAMES[i],
                                 line=dict(color=SERIES_COLORS[i], width=8, shape="spline",
                                           smoothing=P["smooth"]),
                                 legend=P["leg"], legendgroup=P["leg"] + str(i),
                                 xaxis=xa, yaxis=ya))
    top, bot = P["plot"]
    layout["xaxis" + k] = dict(domain=X_DOM, anchor=ya, range=[0, 60], tickvals=X_TICKS,
                               ticks="inside", ticklen=31, tickwidth=2.5, tickcolor=AX_COLOR,
                               showline=True, linecolor=P["xline"][0], linewidth=P["xline"][1],
                               showgrid=False, zeroline=False, ticklabelstandoff=8,
                               tickfont=dict(family=FONT, size=33, color=AX_COLOR),
                               title=dict(text="Time (s)", standoff=14,
                                          font=dict(family=FONT, size=36, color=AX_COLOR)))
    layout["yaxis" + k] = dict(domain=[px_y(bot), px_y(top)], anchor=xa, range=P["yr"], dtick=1,
                               ticks="inside", ticklen=31, tickwidth=2.5, tickcolor=AX_COLOR,
                               showline=True, linecolor=AX_COLOR, linewidth=2.5, showgrid=False,
                               zeroline=False, ticklabelstandoff=10,
                               tickfont=dict(family=FONT, size=33, color=AX_COLOR),
                               title=dict(text="SPM { t }", standoff=8,
                                          font=dict(family=FONT, size=36, color=AX_COLOR)))
    bt, bb = P["box"]
    shapes.append(dict(type="rect", xref="paper", yref="paper", x0=px_x(47), x1=px_x(3791),
                       y0=px_y(bb), y1=px_y(bt), fillcolor="#f0f0f0", line=dict(width=0), layer="below"))
    shapes.append(dict(type="rect", xref=xa + " domain", yref=ya + " domain", x0=0, x1=1, y0=0, y1=1,
                       fillcolor="white", line=dict(width=0), layer="below"))
    shapes.append(dict(type="line", xref=xa, yref=ya, x0=0, x1=60, y0=0, y1=0,
                       line=dict(color="#7a7a7a", width=2, dash="3px,4px"), layer="below"))
    for sgn in (1, -1):
        shapes.append(dict(type="line", xref=xa, yref=ya, x0=0, x1=60, y0=sgn * P["thr"], y1=sgn * P["thr"],
                           line=dict(color="#f51b1b", width=P["thr_w"], dash="28px,13px"), layer="below"))
    for text, tx, ty in P["labels"]:
        annotations.append(dict(text=text, x=tx, y=ty, xref=xa, yref=ya, showarrow=False,
                                font=dict(family=FONT, size=35, color="black"), bgcolor="#ececec",
                                borderpad=8, xanchor="center", yanchor="middle"))
    annotations.append(dict(text="<i>%s</i>" % P["cap"], x=px_x(1910), y=px_y(P["cap_y"]),
                            xref="paper", yref="paper", showarrow=False,
                            font=dict(family=FONT, size=41, color="black"),
                            xanchor="center", yanchor="middle"))
    annotations.append(dict(text="<i>%s</i>" % P["title"], x=px_x(4100), y=px_y(P["title_y"]),
                            xref="paper", yref="paper", showarrow=False,
                            font=dict(family=FONT, size=95, color="black"),
                            xanchor="center", yanchor="middle"))
    layout[P["leg"]] = dict(x=px_x(3954), y=px_y(P["leg_y"]), xanchor="left", yanchor="top",
                            font=dict(family=FONT, size=31, color="black"), bgcolor="rgba(0,0,0,0)",
                            traceorder="grouped", tracegroupgap=16, itemwidth=55,
                            itemclick=False, itemdoubleclick=False)

annotations.append(dict(text="<i>\u03b1 = 0.05</i>", x=1.45, y=3.81, xref="x3", yref="y3",
                        showarrow=False, font=dict(family=FONT, size=34, color="#f51b1b"),
                        xanchor="left", yanchor="middle"))

fig.update_layout(width=W, height=H, margin=dict(l=0, r=0, t=0, b=0),
                  paper_bgcolor="white", plot_bgcolor="white", showlegend=True,
                  shapes=shapes, annotations=annotations, **layout)

# pin the figure to the top-left of the window and fit it to the window size
FIT_JS = """
(function () {
  var gd = document.getElementById('{plot_id}');
  document.documentElement.style.margin = '0';
  document.body.style.margin = '0';
  document.documentElement.style.overflow = 'hidden';
  document.body.style.overflow = 'hidden';
  var sx = window.innerWidth / %d, sy = window.innerHeight / %d;
  gd.style.position = 'fixed';
  gd.style.left = '0px';
  gd.style.top = '0px';
  gd.style.transformOrigin = '0 0';
  gd.style.transform = 'scale(' + sx + ',' + sy + ')';
})();
""" % (W, H)

fig.write_html("out.html", post_script=FIT_JS, config={"displayModeBar": False})
